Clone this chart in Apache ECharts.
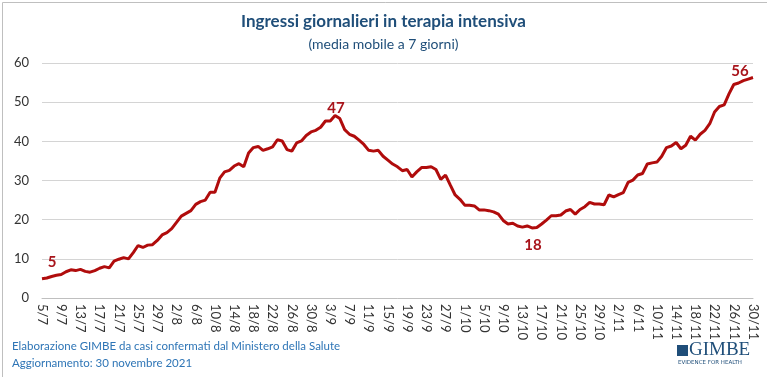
<!DOCTYPE html>
<html>
<head>
<meta charset="utf-8">
<script src="https://cdn.jsdelivr.net/npm/echarts@6/dist/echarts.min.js"></script>
<style>
html,body{margin:0;padding:0;background:#fff;}
#chart{width:767px;height:377px;}
</style>
</head>
<body>
<div id="chart"></div>
<script>
// Daily values: 7-day moving average of ICU admissions, 5/7/2021 .. 30/11/2021
var startDate = [2021, 6, 5];
var endDate = [2021, 10, 30];
var values = [
  4.9, 5.1, 5.5, 5.8, 6.0, 6.7, 7.2, 7.0, 7.3, 6.8,
  6.6, 7.0, 7.6, 8.0, 7.7, 9.4, 9.9, 10.3, 10.0, 11.6,
  13.4, 12.9, 13.5, 13.6, 14.7, 16.1, 16.7, 17.7, 19.3, 20.9,
  21.6, 22.3, 23.9, 24.6, 25.0, 27.0, 27.0, 30.6, 32.2, 32.6,
  33.7, 34.3, 33.5, 37.0, 38.4, 38.7, 37.7, 38.1, 38.6, 40.4,
  40.1, 37.9, 37.5, 39.6, 40.1, 41.5, 42.4, 42.8, 43.6, 45.2,
  45.2, 46.6, 45.8, 43.0, 41.8, 41.3, 40.3, 39.2, 37.7, 37.5,
  37.7, 36.2, 35.2, 34.2, 33.5, 32.5, 32.8, 30.9, 32.2, 33.3,
  33.3, 33.5, 32.8, 30.3, 31.4, 28.8, 26.3, 25.2, 23.7, 23.7,
  23.5, 22.5, 22.5, 22.3, 22.0, 21.4, 19.8, 18.9, 19.1, 18.4,
  18.1, 18.4, 17.9, 18.0, 18.9, 19.9, 21.0, 21.0, 21.2, 22.2,
  22.6, 21.4, 22.6, 23.3, 24.4, 24.0, 24.0, 23.8, 26.3, 25.8,
  26.4, 26.9, 29.5, 30.1, 31.4, 31.8, 34.2, 34.5, 34.7, 36.2,
  38.4, 38.8, 39.7, 38.1, 39.0, 41.3, 40.3, 41.8, 42.8, 44.5,
  47.5, 48.9, 49.3, 52.1, 54.5, 54.9, 55.5, 55.9, 56.3
];
// annotated points: index and text
var annotIndex = [0, 61, 102, 148];
var annotText = ['5', '47', '18', '56'];
var yTicks = [0, 10, 20, 30, 40, 50, 60];
var titleText = 'Ingressi giornalieri in terapia intensiva';
var subtitleText = '(media mobile a 7 giorni)';
var footer1 = 'Elaborazione GIMBE da casi confermati dal Ministero della Salute';
var footer2 = 'Aggiornamento: 30 novembre 2021';

// build category labels d/m
var categories = [];
var d = new Date(startDate[0], startDate[1], startDate[2]);
var e = new Date(endDate[0], endDate[1], endDate[2]);
while (d <= e) {
  categories.push(d.getDate() + '/' + (d.getMonth() + 1));
  d.setDate(d.getDate() + 1);
}

var labelCfg = [
  {position: 'top', offset: [10, -4]},
  {position: 'top', offset: [1, 6]},
  {position: 'bottom', offset: [1, 4]},
  {position: 'top', offset: [-13, 7]}
];
var markData = annotIndex.map(function (idx, k) {
  return {
    coord: [idx, values[idx]],
    value: annotText[k],
    label: {position: labelCfg[k].position, offset: labelCfg[k].offset}
  };
});

var chart = echarts.init(document.getElementById('chart'), null, {renderer: 'canvas'});
chart.setOption({
  animation: false,
  backgroundColor: '#fff',
  title: [{
    text: titleText, left: 'center', top: 8,
    textStyle: {color: '#1F4E79', fontSize: 17, fontWeight: 'bold', fontFamily: 'Lato'}
  }, {
    text: subtitleText, left: 'center', top: 32,
    textStyle: {color: '#1F4E79', fontSize: 14, fontWeight: 'normal', fontFamily: 'Lato'}
  }],
  grid: {left: 42, right: 14, top: 63, bottom: 79, containLabel: false},
  xAxis: {
    type: 'category', data: categories, boundaryGap: false,
    axisLine: {lineStyle: {color: '#BFBFBF'}},
    axisTick: {show: false},
    axisLabel: {
      interval: 3, rotate: -90, color: '#333', fontSize: 13, fontFamily: 'Lato', margin: 6
    }
  },
  yAxis: {
    type: 'value', min: yTicks[0], max: yTicks[yTicks.length - 1], interval: 10,
    axisLine: {show: false}, axisTick: {show: false},
    splitLine: {lineStyle: {color: '#D4D4D4', width: 1}},
    axisLabel: {color: '#333', fontSize: 13, fontFamily: 'Lato', margin: 13}
  },
  series: [{
    type: 'line', data: values, symbol: 'none',
    lineStyle: {color: '#B00C0C', width: 3},
    itemStyle: {color: '#B00C0C'},
    markPoint: {
      symbol: 'circle', symbolSize: 1,
      itemStyle: {color: 'rgba(0,0,0,0)'},
      label: {
        show: true, formatter: '{c}',
        color: '#A8141B', fontWeight: 'bold', fontSize: 15, fontFamily: 'Lato'
      },
      data: markData
    }
  }],
  graphic: [
    {type: 'rect', left: 0, top: 0, shape: {width: 766, height: 376},
     style: {fill: 'none', stroke: '#BFBFBF', lineWidth: 1}, z: 100, silent: true},
    {type: 'text', left: 12, top: 340, style: {text: footer1, fill: '#2E75B6', font: '11.5px Lato'}},
    {type: 'text', left: 12, top: 357, style: {text: footer2, fill: '#2E75B6', font: '11.5px Lato'}},
    {type: 'rect', left: 677, top: 345, shape: {width: 11, height: 11},
     style: {fill: '#1F4E79'}},
    {type: 'text', left: 689, top: 341, style: {text: 'GIMBE', fill: '#1F4E79', font: '19px "Liberation Serif"'}},
    {type: 'text', left: 678, top: 360, style: {text: 'EVIDENCE FOR HEALTH', fill: '#1F4E79', font: '5.5px "DejaVu Sans"'}}
  ]
});
</script>
</body>
</html>
